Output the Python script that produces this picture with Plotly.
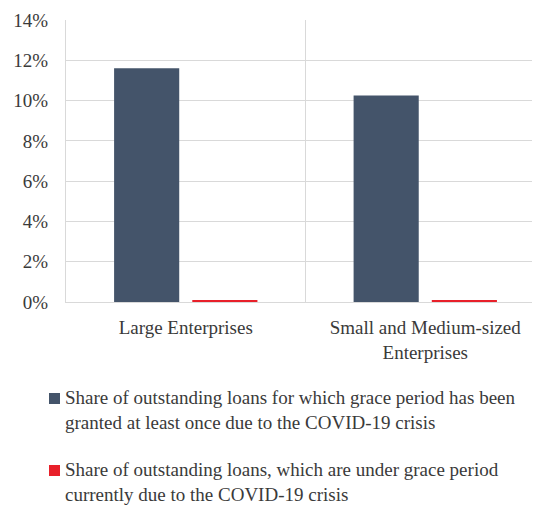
import plotly.graph_objects as go

categories = ["Large Enterprises", "Small and Medium-sized<br>Enterprises"]
series_names = [
    "Share of outstanding loans for which grace period has been<br>granted at least once due to the COVID-19 crisis",
    "Share of outstanding loans, which are under grace period<br>currently due to the COVID-19 crisis",
]
series_colors = ["#44546a", "#e8202a"]
granted_once = [11.6, 10.25]
under_grace_now = [0.1, 0.05]
y_ticks = [0, 2, 4, 6, 8, 10, 12, 14]

FONT = "Liberation Serif"
TXT = "#3a3a3a"
OFF = 8  # default page body margin
W, H = 540 - OFF, 506 - OFF
ML, MR, MT, MB = 66 - OFF, 0, 20 - OFF, 204
PW, PH = W - ML - MR, H - MT - MB


def px_x(p):
    return (p - OFF - ML) / PW


def px_y(p):
    return (H - MB - (p - OFF)) / PH


fig = go.Figure()
fig.add_bar(x=categories, y=granted_once, name=series_names[0],
            marker=dict(color=series_colors[0], line=dict(width=0)))
fig.add_bar(x=categories, y=under_grace_now, name=series_names[1],
            marker=dict(color=series_colors[1], line=dict(width=0)))

fig.add_shape(type="line", xref="x", yref="paper", x0=0.5, x1=0.5, y0=0, y1=1,
              line=dict(color="#d9d9d9", width=1), layer="below")

# manual legend
legend_centers = [410, 482]
for name, col, cy in zip(series_names, series_colors, legend_centers):
    sq_top = cy - 17
    fig.add_shape(type="rect", xref="paper", yref="paper",
                  x0=px_x(49), x1=px_x(60), y0=px_y(sq_top), y1=px_y(sq_top + 11),
                  fillcolor=col, line=dict(width=0))
    fig.add_annotation(xref="paper", yref="paper", x=px_x(63), y=px_y(cy),
                       xanchor="left", yanchor="middle", align="left",
                       text=name, showarrow=False,
                       font=dict(family=FONT, size=19, color=TXT))

fig.update_layout(
    width=W, height=H,
    margin=dict(l=ML, r=MR, t=MT, b=MB),
    paper_bgcolor="white", plot_bgcolor="white",
    barmode="group", bargap=0.347, bargroupgap=0.167,
    font=dict(family=FONT, size=19, color=TXT),
    showlegend=False,
    xaxis=dict(range=[-0.5, 1.479], showgrid=False, showline=True,
               linecolor="#d9d9d9", linewidth=1,
               ticks="", tickfont=dict(size=19, color=TXT), ticklabelstandoff=8,
               automargin=False),
    yaxis=dict(range=[0, 14], tickvals=y_ticks, ticktext=[f"{v}%" for v in y_ticks],
               showgrid=True, gridcolor="#d9d9d9", gridwidth=1,
               showline=True, linecolor="#d9d9d9", linewidth=1,
               zeroline=False, ticks="", tickfont=dict(size=19, color=TXT),
               ticklabelstandoff=13, automargin=False),
)

fig.write_html("out.html")
